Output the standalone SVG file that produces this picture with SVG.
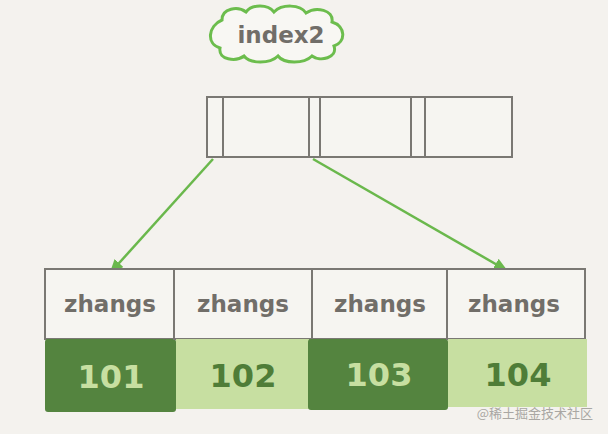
<svg xmlns="http://www.w3.org/2000/svg" width="608" height="434" viewBox="0 0 608 434">
<style>
.cell{fill:#f6f5f1;stroke:#7a7873;stroke-width:2}
.lbl{font-family:"DejaVu Sans","Liberation Sans",sans-serif;font-size:23px;font-weight:bold;fill:#716e69;text-anchor:middle}
.num{font-family:"DejaVu Sans","Liberation Sans",sans-serif;font-size:32px;font-weight:bold;text-anchor:middle}
.dk{fill:#54843f}
.lt{fill:#c7dfa1}
.conn{stroke:#6ab84c;stroke-width:2.5;fill:none}
</style>
<defs>
<marker id="ah" markerWidth="14" markerHeight="12" refX="12" refY="6" orient="auto" markerUnits="userSpaceOnUse">
<path d="M0,0 L14,6 L0,12 Z" fill="#6ab84c"/>
</marker>
</defs>
<rect width="608" height="434" fill="#f4f2ee"/>
<g id="index2">
<path d="M222,20 C222,8 238,6 246,12 C252,4 268,4 274,12 C282,4 300,4 306,13 C316,6 334,10 332,22 C346,26 346,42 334,46 C338,58 320,62 312,56 C304,64 284,64 278,56 C270,64 250,64 244,56 C236,62 218,60 220,48 C206,44 208,26 222,20 Z" fill="#f8f7f3" stroke="#6cbd4d" stroke-width="3"/>
<text x="281" y="43" class="lbl" font-size="25">index2</text>
</g>
<g id="root">
<rect x="207" y="97" width="305" height="60" class="cell"/>
<line x1="223" y1="97" x2="223" y2="157" stroke="#7a7873" stroke-width="2"/>
<line x1="309" y1="97" x2="309" y2="157" stroke="#7a7873" stroke-width="2"/>
<line x1="320" y1="97" x2="320" y2="157" stroke="#7a7873" stroke-width="2"/>
<line x1="411" y1="97" x2="411" y2="157" stroke="#7a7873" stroke-width="2"/>
<line x1="425" y1="97" x2="425" y2="157" stroke="#7a7873" stroke-width="2"/>
</g>
<g id="connectors">
<line x1="213" y1="159" x2="111" y2="272" class="conn" marker-end="url(#ah)"/>
<line x1="313" y1="159" x2="506" y2="270" class="conn" marker-end="url(#ah)"/>
</g>
<g id="leaf1">
<rect x="45" y="269" width="129" height="70" class="cell"/>
<text x="110" y="312" class="lbl">zhangs</text>
<rect x="45" y="339" width="131" height="73" rx="3" class="dk"/>
<text x="111" y="388" class="num" fill="#c7dfa1">101</text>
</g>
<g id="leaf2">
<rect x="174" y="269" width="138" height="70" class="cell"/>
<text x="243" y="312" class="lbl">zhangs</text>
<rect x="176" y="339" width="133" height="70" class="lt"/>
<text x="243" y="387" class="num" fill="#4f7d38">102</text>
</g>
<g id="leaf3">
<rect x="312" y="269" width="135" height="70" class="cell"/>
<text x="380" y="312" class="lbl">zhangs</text>
<rect x="308" y="339" width="140" height="71" rx="3" class="dk"/>
<text x="379" y="386" class="num" fill="#c7dfa1">103</text>
</g>
<g id="leaf4">
<rect x="447" y="269" width="138" height="70" class="cell"/>
<text x="514" y="312" class="lbl">zhangs</text>
<rect x="448" y="339" width="139" height="68" class="lt"/>
<text x="518" y="386" class="num" fill="#4f7d38">104</text>
</g>
<text x="593" y="418" font-family="'Noto Sans CJK SC',sans-serif" font-size="13" fill="#a9a7a3" text-anchor="end">@稀土掘金技术社区</text>
</svg>
